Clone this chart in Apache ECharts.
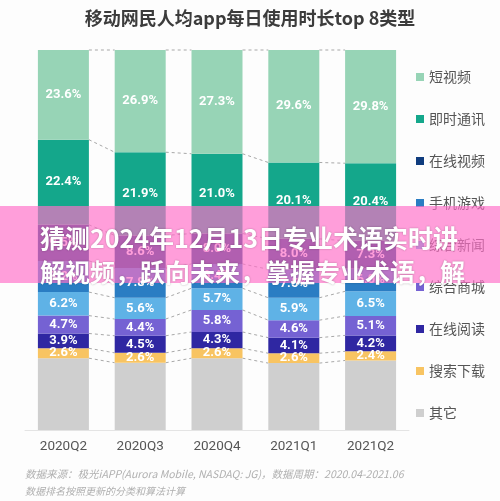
<!DOCTYPE html>
<html>
<head>
<meta charset="utf-8">
<script src="https://cdn.jsdelivr.net/npm/echarts@6/dist/echarts.min.js"></script>
<style>html,body{margin:0;padding:0;background:#fdfdfd;}#c{width:500px;height:501px;}</style>
</head>
<body>
<div id="c"></div>
<script>
const categories = ['2020Q2', '2020Q3', '2020Q4', '2021Q1', '2021Q2'];
const shortVideo = [23.6, 26.9, 27.3, 29.6, 29.8];
const instantMsg = [22.4, 21.9, 21.0, 20.1, 20.4];
const onlineVideo = [9.5, 8.6, 8.0, 8.0, 7.3];
const mobileGame = [8.2, 7.8, 6.4, 7.5, 6.0];
const news = [6.2, 5.6, 5.7, 5.9, 6.5];
const mall = [4.7, 4.4, 5.8, 4.6, 5.1];
const reading = [3.9, 4.5, 4.3, 4.1, 4.2];
const searchDl = [2.6, 2.6, 2.6, 2.6, 2.4];
const others = [18.9, 17.7, 18.9, 17.6, 18.3];

const legendNames = ['短视频', '即时通讯', '在线视频', '手机游戏', '综合新闻', '综合商城', '在线阅读', '搜索下载', '其它'];
const titleText = '移动网民人均app每日使用时长top 8类型';
const bannerLine1 = '猜测2024年12月13日专业术语实时讲';
const bannerLine2 = '解视频，跃向未来，掌握专业术语，解';
const footer1 = '数据来源：极光iAPP(Aurora Mobile, NASDAQ: JG)，数据周期：2020.04-2021.06';
const footer2 = '数据排名按照更新的分类和算法计算';

const stackDefs = [
  { name: '其它', data: others, color: '#cfcfcf', label: false },
  { name: '搜索下载', data: searchDl, color: '#f8c462', label: true },
  { name: '在线阅读', data: reading, color: '#2f27a2', label: true },
  { name: '综合商城', data: mall, color: '#7562d3', label: true },
  { name: '综合新闻', data: news, color: '#5fb2e6', label: true },
  { name: '手机游戏', data: mobileGame, color: '#2a7dc3', label: true },
  { name: '在线视频', data: onlineVideo, color: '#0f3c7e', label: true },
  { name: '即时通讯', data: instantMsg, color: '#14a78b', label: true },
  { name: '短视频', data: shortVideo, color: '#97d4b6', label: true }
];

const BAR_W = 51;

const barSeries = stackDefs.map(d => ({
  name: d.name,
  type: 'bar',
  stack: 'total',
  barWidth: BAR_W,
  data: d.data,
  itemStyle: { color: d.color },
  label: {
    show: d.label,
    position: 'inside',
    color: '#ffffff',
    fontSize: 13,
    fontWeight: 'bold',
    fontFamily: 'Roboto, "Noto Sans", sans-serif',
    formatter: p => p.value.toFixed(1) + '%'
  }
}));

const cumulative = categories.map((c, i) => {
  let s = 0;
  return stackDefs.map(d => (s += d.data[i]));
});
const connectorData = [];
for (let i = 0; i < categories.length - 1; i++) {
  for (let k = 0; k < stackDefs.length; k++) {
    connectorData.push([i, cumulative[i][k], cumulative[i + 1][k]]);
  }
}

const connectorSeries = {
  type: 'custom',
  silent: true,
  encode: { x: 0, y: 1 },
  data: connectorData,
  z: 1,
  renderItem: function (params, api) {
    const i = api.value(0);
    const a = api.coord([i, api.value(1)]);
    const b = api.coord([i + 1, api.value(2)]);
    return {
      type: 'line',
      shape: { x1: a[0] + BAR_W / 2, y1: a[1], x2: b[0] - BAR_W / 2, y2: b[1] },
      style: { stroke: '#a8a8a8', lineWidth: 1, lineDash: [3, 3] }
    };
  }
};

const chart = echarts.init(document.getElementById('c'));
chart.setOption({
  backgroundColor: '#fdfdfd',
  animation: false,
  title: [
    {
      text: titleText,
      left: 'center',
      top: 4,
      textStyle: { fontSize: 18, fontWeight: 'bold', color: '#3c3c3c', fontFamily: '"Noto Sans CJK SC", sans-serif' }
    },
    {
      text: bannerLine1 + '\n' + bannerLine2,
      left: 40,
      top: 221,
      padding: 0,
      z: 120,
      textStyle: {
        fontSize: 25, fontWeight: 'bold', color: '#ffffff', lineHeight: 34,
        fontFamily: '"Noto Sans CJK SC", sans-serif',
        textShadowColor: 'rgba(0,0,0,0.3)', textShadowBlur: 2
      }
    }
  ],
  grid: { left: 25, right: 91, top: 50, bottom: 71 },
  xAxis: {
    type: 'category',
    data: categories,
    axisLine: { lineStyle: { color: '#e4e4e4' } },
    axisTick: { show: false },
    axisLabel: { color: '#555555', fontSize: 13.5, margin: 10, fontFamily: 'Roboto, sans-serif' }
  },
  yAxis: { type: 'value', min: 0, max: 100, show: false },
  legend: {
    orient: 'vertical',
    left: 411,
    top: 64,
    icon: 'rect',
    itemWidth: 8,
    itemHeight: 8,
    itemGap: 26,
    data: legendNames,
    textStyle: { fontSize: 14, color: '#555555', lineHeight: 16, fontFamily: '"Noto Sans CJK SC", sans-serif' }
  },
  graphic: [
    { type: 'rect', z: 100, shape: { x: 0, y: 206, width: 500, height: 77 }, style: { fill: 'rgba(255,112,200,0.68)' } },
    { type: 'text', style: { text: footer1, x: 25, y: 469, fill: '#b0b0b0', fontSize: 10.5, fontStyle: 'italic', fontFamily: '"Noto Sans CJK SC", sans-serif' } },
    { type: 'text', style: { text: footer2, x: 25, y: 486, fill: '#b0b0b0', fontSize: 10, fontStyle: 'italic', fontFamily: '"Noto Sans CJK SC", sans-serif' } }
  ],
  series: barSeries.concat([connectorSeries])
});
</script>
</body>
</html>
